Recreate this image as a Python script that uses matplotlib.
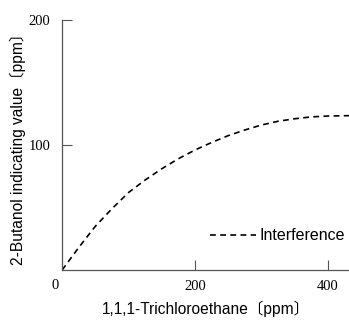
import matplotlib
matplotlib.use('Agg')
from matplotlib import pyplot as plt

# interference curve
tce_ppm = [0, 25, 50, 75, 100, 125, 150, 175, 200, 225, 250, 275, 300,
           325, 350, 375, 400, 432]
butanol_ppm = [0, 18, 35, 49, 62, 72, 81, 89, 96, 102, 107.5, 112, 116,
               119, 121, 122.5, 123.2, 123.5]

xticks = [200, 400]
yticks = [100, 200]

sans = ['Liberation Sans', 'Noto Sans CJK JP', 'DejaVu Sans']
serif = ['Liberation Serif', 'DejaVu Serif']

fig = plt.figure(figsize=(3.49, 3.23), dpi=100)
ax = fig.add_axes([0.178, 0.164, 0.822, 0.774])

ax.plot(tce_ppm, butanol_ppm, color='black', lw=1.2, dashes=(3.5, 2.6),
        label='Interference')

ax.set_xlim(0, 432)
ax.set_ylim(0, 200)
ax.set_xticks(xticks)
ax.set_yticks(yticks)
ax.set_xticklabels([str(t) for t in xticks], family=serif, fontsize=10.5)
ax.set_yticklabels([str(t) for t in yticks], family=serif, fontsize=10.5)
ax.tick_params(axis='x', direction='in', length=7, width=0.8, color='#555555', pad=7)
ax.tick_params(axis='y', direction='in', length=7, width=0.8, color='#555555', pad=8.5)
ax.annotate('0', xy=(0, 0), xytext=(-5, -11), textcoords='offset points',
            ha='center', va='center', family=serif, fontsize=10.5)

for s in ['top', 'right']:
    ax.spines[s].set_visible(False)
for s in ['left', 'bottom']:
    ax.spines[s].set_color('#555555')
    ax.spines[s].set_linewidth(0.9)

ax.set_xlabel('1,1,1-Trichloroethane〔ppm〕', family=sans, fontsize=11.2, labelpad=6)
ax.set_ylabel('2-Butanol indicating value〔ppm〕', family=sans, fontsize=11.2, labelpad=2)

leg = ax.legend(loc='lower right', bbox_to_anchor=(1.035, 0.05), frameon=False,
                handlelength=2.9, handletextpad=0.2, prop={'family': sans, 'size': 11.5})

fig.savefig('out.png', dpi=100)
